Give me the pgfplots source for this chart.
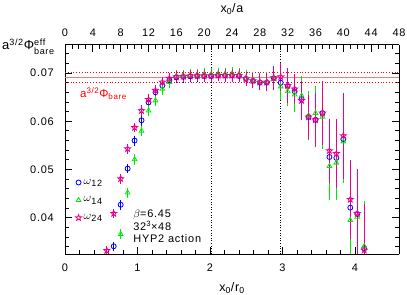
\documentclass[border=0pt]{standalone}
\usepackage{amsmath}
\usepackage{fontspec}
\setmainfont{Liberation Sans}[LetterSpace=7]
\usepackage{pgfplots}
\usepackage{pgfplotstable}
\pgfplotsset{compat=1.18}
\definecolor{salmon}{RGB}{255,120,120}
\definecolor{mgr}{RGB}{0,235,0}

\pgfdeclareplotmark{ostar}{%
  \pgfpathmoveto{\pgfpointpolar{90}{\pgfplotmarksize}}%
  \pgfpathlineto{\pgfpointpolar{126}{0.42\pgfplotmarksize}}%
  \pgfpathlineto{\pgfpointpolar{162}{\pgfplotmarksize}}%
  \pgfpathlineto{\pgfpointpolar{198}{0.42\pgfplotmarksize}}%
  \pgfpathlineto{\pgfpointpolar{234}{\pgfplotmarksize}}%
  \pgfpathlineto{\pgfpointpolar{270}{0.42\pgfplotmarksize}}%
  \pgfpathlineto{\pgfpointpolar{306}{\pgfplotmarksize}}%
  \pgfpathlineto{\pgfpointpolar{342}{0.42\pgfplotmarksize}}%
  \pgfpathlineto{\pgfpointpolar{18}{\pgfplotmarksize}}%
  \pgfpathlineto{\pgfpointpolar{54}{0.42\pgfplotmarksize}}%
  \pgfpathclose\pgfusepathqstroke}

% omega_12 (blue circles): t = x0/a, value, error
\pgfplotstableread{
t v e
7 0.0341 0.0003
8 0.0427 0.0004
9 0.0502 0.0004
10 0.0560 0.0004
11 0.0602 0.0005
12 0.0639 0.0005
13 0.0660 0.0005
14 0.0674 0.0005
15 0.0685 0.0006
16 0.0691 0.0006
17 0.0692 0.0006
18 0.0693 0.0006
19 0.0694 0.0006
20 0.0694 0.0006
21 0.0694 0.0006
22 0.0695 0.0006
23 0.0695 0.0007
24 0.0695 0.0007
25 0.0694 0.0007
26 0.0688 0.0008
27 0.0684 0.0009
28 0.0680 0.0010
29 0.0680 0.0012
30 0.0689 0.0017
31 0.0680 0.0024
32 0.0673 0.0028
33 0.0662 0.0028
34 0.0646 0.0035
35 0.0609 0.0042
36 0.0603 0.0050
37 0.0617 0.0058
38 0.0526 0.0060
39 0.0524 0.0068
40 0.0563 0.0080
41 0.0421 0.0071
42 0.0408 0.0085
43 0.0337 0.0075
}\dataA

% omega_14 (green triangles)
\pgfplotstableread{
t v e
8 0.0366 0.0004
9 0.0452 0.0004
10 0.0521 0.0005
11 0.0580 0.0005
12 0.0622 0.0005
13 0.0643 0.0006
14 0.0667 0.0006
15 0.0681 0.0006
16 0.0693 0.0006
17 0.0695 0.0006
18 0.0696 0.0006
19 0.0696 0.0006
20 0.0697 0.0007
21 0.0697 0.0007
22 0.0698 0.0007
23 0.0698 0.0007
24 0.0698 0.0008
25 0.0697 0.0008
26 0.0690 0.0009
27 0.0686 0.0010
28 0.0682 0.0011
29 0.0682 0.0013
30 0.0688 0.0018
31 0.0672 0.0022
32 0.0662 0.0025
33 0.0655 0.0030
34 0.0653 0.0035
35 0.0612 0.0045
36 0.0617 0.0050
37 0.0609 0.0060
38 0.0507 0.0063
39 0.0514 0.0070
40 0.0558 0.0080
41 0.0395 0.0085
42 0.0402 0.0090
43 0.0341 0.0088
}\dataB

% omega_24 (magenta stars)
\pgfplotstableread{
t v e
6 0.0332 0.0003
7 0.0409 0.0003
8 0.0481 0.0004
9 0.0543 0.0004
10 0.0587 0.0004
11 0.0622 0.0005
12 0.0645 0.0005
13 0.0664 0.0005
14 0.0681 0.0005
15 0.0689 0.0005
16 0.0692 0.0005
17 0.0693 0.0005
18 0.0694 0.0005
19 0.0694 0.0005
20 0.0694 0.0006
21 0.0694 0.0006
22 0.0695 0.0006
23 0.0695 0.0007
24 0.0695 0.0007
25 0.0695 0.0007
26 0.0688 0.0008
27 0.0684 0.0009
28 0.0681 0.0010
29 0.0681 0.0012
30 0.0690 0.0018
31 0.0692 0.0023
32 0.0674 0.0030
33 0.0667 0.0025
34 0.0643 0.0035
35 0.0609 0.0040
36 0.0603 0.0050
37 0.0617 0.0060
38 0.0539 0.0060
39 0.0533 0.0065
40 0.0570 0.0083
41 0.0438 0.0075
42 0.0409 0.0086
43 0.0333 0.0090
}\dataC

\begin{document}
\begin{tikzpicture}
\pgfplotsset{
  common/.style={
    scale only axis, width=334bp, height=209bp,
    ymin=0.0325, ymax=0.0758,
    scaled y ticks=false, scaled x ticks=false,
    font=\fontsize{11}{13}\selectfont,
    /pgf/number format/assume math mode=true,
    axis line style={line width=1bp},
    major tick length=7bp, minor tick length=4bp,
    every tick/.style={black, line width=0.9bp},
    tick align=inside,
  }
}
\path[use as bounding box] (-65bp,-41bp) rectangle (342bp,254bp);
\begin{axis}[common,
  xmin=0, xmax=4.607,
  axis x line*=bottom,
  xtick={0,1,2,3,4},
  minor x tick num=4,
  ytick={0.04,0.05,0.06,0.07},
  yticklabels={0.04,0.05,0.06,0.07},
  minor ytick={0.034,0.036,0.038,0.042,0.044,0.046,0.048,0.052,0.054,0.056,0.058,0.062,0.064,0.066,0.068,0.072,0.074},
  yticklabel style={anchor=east, inner sep=0pt, xshift=-11bp},
  xticklabel style={anchor=center, yshift=-14bp},
  xlabel={x\textsubscript{0}/r\textsubscript{0}},
  xlabel style={at={(axis description cs:0.5,0)}, anchor=center, yshift=-34bp, font=\fontsize{12.5}{14}\selectfont},
]
\node[anchor=base west, inner sep=0pt, red, font=\fontsize{11.5}{13}\selectfont] at (axis cs:0.207,0.0649) {a\textsuperscript{3/2}Φ\textsubscript{bare}};
\node[anchor=north west, inner sep=0pt, align=left, font=\fontsize{11}{12.5}\selectfont] at (axis cs:0.94,0.0416) {$\beta$=6.45\\32\textsuperscript{3}×48\\HYP2 action};
\end{axis}
\begin{axis}[common,
  xmin=0, xmax=48,
  axis x line*=top,
  axis y line=none,
  xtick={0,4,...,48},
  minor x tick num=3,
  xticklabel style={anchor=center, yshift=12.5bp},
  xlabel={x\textsubscript{0}/a},
  xlabel style={at={(axis description cs:0.5,1)}, anchor=center, yshift=36bp, font=\fontsize{12.5}{14}\selectfont},
  legend cell align=left,
  legend style={draw=none, fill=none, at={(axis description cs:0.022,0.378)}, anchor=north west, row sep=7bp, font=\fontsize{13}{14}\selectfont},
]
\addplot[salmon, line width=1.6bp, forget plot] coordinates {(0,0.0691) (48,0.0691)};
\addplot[red, dotted, line width=0.8bp, forget plot] coordinates {(0,0.0701) (48,0.0701)};
\addplot[red, dotted, line width=0.8bp, forget plot] coordinates {(0,0.0680) (48,0.0680)};
\addplot[black, dotted, line width=0.6bp, forget plot] coordinates {(21,0.0325) (21,0.0758)};
\addplot[black, dotted, line width=0.6bp, forget plot] coordinates {(31,0.0325) (31,0.0758)};

\addplot[only marks, blue, mark=o, mark size=2.5bp, mark options={line width=0.8bp},
  error bars/.cd, y dir=both, y explicit,
  error bar style={line width=0.8bp},
  error mark options={mark size=3bp, line width=0.8bp}]
  table[x=t, y=v, y error=e] {\dataA};
\addlegendentry{$\omega$\textsubscript{12}}
\addplot[only marks, mgr, mark=triangle, mark size=2.7bp, mark options={line width=0.8bp},
  error bars/.cd, y dir=both, y explicit,
  error bar style={line width=0.8bp},
  error mark options={mark size=3bp, line width=0.8bp}]
  table[x=t, y=v, y error=e] {\dataB};
\addlegendentry{$\omega$\textsubscript{14}}
\addplot[only marks, magenta, mark=ostar, mark size=3.2bp, mark options={line width=0.8bp},
  error bars/.cd, y dir=both, y explicit,
  error bar style={line width=0.8bp},
  error mark options={mark size=3bp, line width=0.8bp}]
  table[x=t, y=v, y error=e] {\dataC};
\addlegendentry{$\omega$\textsubscript{24}}
\end{axis}
\node[anchor=base west, inner sep=0pt, font=\fontsize{13}{14}\selectfont] at (-63bp,204bp) {a$^{\text{3/2}}$Φ$^{\text{eff}}_{\text{bare}}$};
\end{tikzpicture}
\end{document}
